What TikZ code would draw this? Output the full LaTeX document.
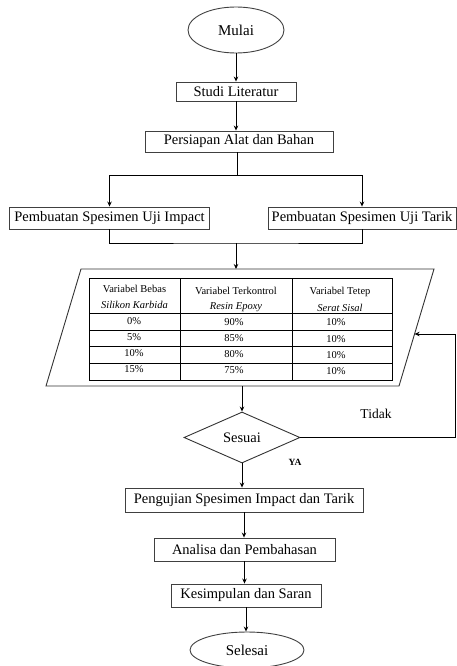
\documentclass[tikz,border=0pt]{standalone}
\usepackage{fontspec}
\setmainfont{Liberation Serif}
\usetikzlibrary{arrows.meta,shapes.geometric}
\begin{document}
\begin{tikzpicture}[x=1pt,y=-1pt,
  box/.style={draw=black!75,line width=0.9pt,inner sep=0pt,font=\fontsize{14.5}{16}\selectfont},
  term/.style={ellipse,draw=black!75,line width=0.9pt,inner sep=0pt,font=\fontsize{15}{17}\selectfont},
  arr/.style={-{Stealth[length=5pt,width=4.5pt]},line width=0.9pt},
  ln/.style={line width=0.9pt},
  tline/.style={line width=0.8pt},
  tb/.style={font=\fontsize{10.5}{12}\selectfont,inner sep=0pt},
  lbl/.style={inner sep=0pt}]
\useasboundingbox (0,0) rectangle (457,666);

% terminals and boxes
\node[term,minimum width=96pt,minimum height=46pt] (mulai) at (236,30) {Mulai};
\node[box,minimum width=120pt,minimum height=19pt] (studi) at (236,91.5) {Studi Literatur};
\node[box,minimum width=188pt,minimum height=21pt] (persiapan) at (239,141.5) {Persiapan Alat dan Bahan};
\node[box,minimum width=200pt,minimum height=22pt] (impact) at (109.5,218) {Pembuatan Spesimen Uji Impact};
\node[box,minimum width=188pt,minimum height=22pt] (tarik) at (362,218) {Pembuatan Spesimen Uji Tarik};

% parallelogram
\coordinate (tl) at (81,269);
\coordinate (tr) at (434,269);
\coordinate (br) at (399,386);
\coordinate (bl) at (46,386);
\coordinate (pin) at (236,269);
\coordinate (pout) at (242,386);
\coordinate (pright) at (414.6,334);
\draw[ln,draw=black!80] (tl) -- (tr) -- (br) -- (bl) -- cycle;

% table
\draw[tline] (89,278) rectangle (392,380);
\draw[tline] (180,278) -- (180,380);
\draw[tline] (292,278) -- (292,380);
\draw[tline] (89,313) -- (392,313);
\draw[tline] (89,330) -- (392,330);
\draw[tline] (89,346) -- (392,346);
\draw[tline] (89,363) -- (392,363);

\node[tb] (h1a) at (134.5,289) {Variabel Bebas};
\node[tb] (h1b) at (134.5,305) {\itshape Silikon Karbida};
\node[tb] (h2a) at (236,291) {Variabel Terkontrol};
\node[tb] (h2b) at (236,307) {\itshape Resin Epoxy};
\node[tb] (h3a) at (340,292) {Variabel Tetep};
\node[tb] (h3b) at (340,308) {\itshape Serat Sisal};

\node[tb] (r1a) at (134,321) {0\%};
\node[tb] (r1b) at (234,322) {90\%};
\node[tb] (r1c) at (336,322.5) {10\%};
\node[tb] (r2a) at (134,337.5) {5\%};
\node[tb] (r2b) at (234,338) {85\%};
\node[tb] (r2c) at (336,339) {10\%};
\node[tb] (r3a) at (134,353.5) {10\%};
\node[tb] (r3b) at (234,354.5) {80\%};
\node[tb] (r3c) at (336,355.5) {10\%};
\node[tb] (r4a) at (134,369.5) {15\%};
\node[tb] (r4b) at (234,370.5) {75\%};
\node[tb] (r4c) at (336,371) {10\%};

% decision
\node[diamond,draw=black!80,line width=0.9pt,inner sep=0pt,aspect=2.27,
      minimum width=116pt,minimum height=51pt,font=\fontsize{14.5}{16}\selectfont] (sesuai) at (242,437.5) {Sesuai};
\node[lbl,font=\fontsize{13.5}{15}\selectfont] (tidak) at (376,414) {Tidak};
\node[lbl,font=\bfseries\fontsize{9.5}{11}\selectfont] (ya) at (295,462) {YA};

\node[box,minimum width=238pt,minimum height=24pt] (uji) at (244,500) {Pengujian Spesimen Impact dan Tarik};
\node[box,minimum width=181pt,minimum height=23pt] (analisa) at (244.5,549.5) {Analisa dan Pembahasan};
\node[box,minimum width=150pt,minimum height=23pt] (kesimpulan) at (246,595.5) {Kesimpulan dan Saran};
\node[term,minimum width=114pt,minimum height=36pt] (selesai) at (247,650) {Selesai};

% connectors
\coordinate (split) at (237,175);
\coordinate (merge) at (236,243);
\coordinate (fb) at (455.5,437.5);

\draw[arr] (mulai.south) -- (mulai.south |- studi.north);
\draw[arr] (studi.south) -- (studi.south |- persiapan.north);
\draw[ln] (persiapan.south -| split) -- (split);
\draw[arr] (split) -| (impact.north);
\draw[arr] (split) -| (tarik.north);
\draw[ln] (impact.south) |- (merge) -| (tarik.south);
\draw[arr] (merge) -- (pin);
\draw[arr] (pout) -- (sesuai.north);
\draw[ln] (sesuai.east) -- (fb);
\draw[arr] (fb) |- (pright);
\draw[arr] (sesuai.south) -- (sesuai.south |- uji.north);
\draw[arr] (uji.south) -- (uji.south |- analisa.north);
\draw[arr] (analisa.south) -- (analisa.south |- kesimpulan.north);
\draw[arr] (kesimpulan.south) -- (kesimpulan.south |- selesai.north);
\end{tikzpicture}
\end{document}
